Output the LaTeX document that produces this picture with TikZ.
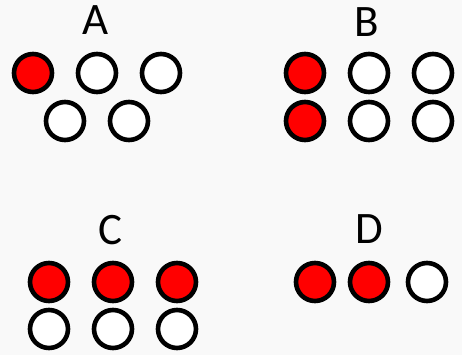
\documentclass[tikz,border=0pt]{standalone}
\usepackage{fontspec}
\setmainfont{Carlito}
\definecolor{bg}{RGB}{249,249,249}
\definecolor{dotred}{RGB}{255,0,0}
\tikzset{
  dot/.style={circle,draw=black,line width=4.6pt,minimum size=38pt,inner sep=0pt,fill=white},
  reddot/.style={dot,fill=dotred},
  lbl/.style={anchor=base,font=\fontsize{45}{50}\selectfont,inner sep=0pt}
}
\begin{document}
\begin{tikzpicture}[x=1pt,y=-1pt]
\fill[bg] (0,0) rectangle (462,355);
\useasboundingbox (0,0) rectangle (462,355);
% A
\node[lbl] (la) at (96,35) {A};
\node[reddot] (a1) at (33,73) {};
\node[dot] (a2) at (97,73) {};
\node[dot] (a3) at (161,73) {};
\node[dot] (a4) at (65,121) {};
\node[dot] (a5) at (129,121) {};
% B
\node[lbl] (lb) at (367,37) {B};
\node[reddot] (b1) at (305,73) {};
\node[dot] (b2) at (369,73) {};
\node[dot] (b3) at (433,73) {};
\node[reddot] (b4) at (305,121) {};
\node[dot] (b5) at (369,121) {};
\node[dot] (b6) at (433,121) {};
% C
\node[lbl] (lc) at (110,244) {C};
\node[reddot] (c1) at (49,282) {};
\node[reddot] (c2) at (113,282) {};
\node[reddot] (c3) at (177,282) {};
\node[dot] (c4) at (49,329) {};
\node[dot] (c5) at (113,329) {};
\node[dot] (c6) at (177,329) {};
% D
\node[lbl] (ld) at (369,243) {D};
\node[reddot] (d1) at (315,282) {};
\node[reddot] (d2) at (369,282) {};
\node[dot] (d3) at (427,282) {};
\end{tikzpicture}
\end{document}
